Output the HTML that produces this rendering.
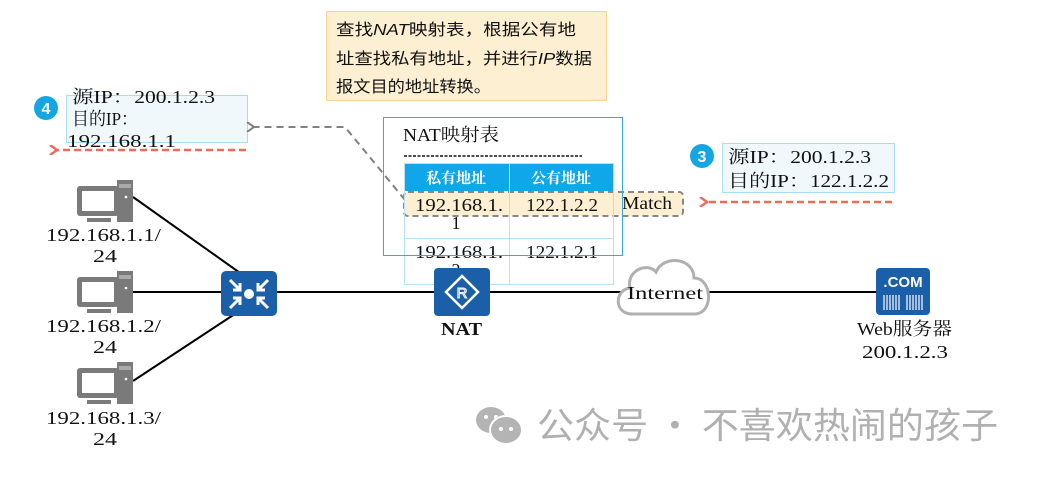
<!DOCTYPE html>
<html><head><meta charset="utf-8"><style>
html,body{margin:0;padding:0;background:#fff;}
svg{display:block;}
.s{font-family:"Liberation Serif","Noto Serif CJK SC",serif;font-size:18px;fill:#111;}
.n{font-family:"Liberation Sans","Noto Sans CJK SC",sans-serif;font-size:16px;fill:#111;}
</style></head><body>
<svg width="1044" height="480" viewBox="0 0 1044 480" xmlns="http://www.w3.org/2000/svg">
<defs>
<marker id="ag" markerWidth="10" markerHeight="10" refX="2" refY="5" orient="auto" markerUnits="userSpaceOnUse"><path d="M9,0 L2,5 L9,10" fill="none" stroke="#808080" stroke-width="2"/></marker>
<marker id="ar" markerWidth="10" markerHeight="10" refX="2" refY="5" orient="auto" markerUnits="userSpaceOnUse"><path d="M9,0 L2,5 L9,10" fill="none" stroke="#ee6b5a" stroke-width="2.5"/></marker>
<g id="pc">
<rect x="0" y="6" width="42" height="30" rx="3" fill="#7a7a7a"/>
<rect x="5" y="11" width="32" height="20" fill="#fff"/>
<rect x="10" y="38" width="24" height="4" fill="#7a7a7a"/>
<rect x="40" y="0" width="16" height="42" fill="#7a7a7a"/>
<rect x="42" y="4" width="12" height="4" fill="#aaa"/>
<circle cx="49" cy="17" r="1.3" fill="#fff"/>
</g>
</defs>
<!-- note -->
<rect x="326.5" y="11.5" width="280" height="89" fill="#fdf0d2" stroke="#f6d493"/>
<text class="n" x="336" y="35" textLength="240" lengthAdjust="spacingAndGlyphs">查找<tspan font-style="italic">NAT</tspan>映射表，根据公有地</text>
<text class="n" x="336" y="64" textLength="256" lengthAdjust="spacingAndGlyphs">址查找私有地址，并进行<tspan font-style="italic">IP</tspan>数据</text>
<text class="n" x="336" y="92" textLength="155" lengthAdjust="spacingAndGlyphs">报文目的地址转换。</text>
<!-- box 4 -->
<rect x="66.5" y="95.5" width="181" height="47" fill="#f0f8fc" stroke="#a8dcf2"/>
<circle cx="46" cy="108" r="12" fill="#14a6e2"/>
<text x="46" y="114" text-anchor="middle" font-family="Liberation Sans,sans-serif" font-weight="bold" font-size="16" fill="#fff">4</text>
<text class="s" x="72" y="103" textLength="143" lengthAdjust="spacingAndGlyphs">源IP：200.1.2.3</text>
<text class="s" x="72" y="125" textLength="66" lengthAdjust="spacingAndGlyphs">目的IP：</text>
<text class="s" x="67" y="147" textLength="109" lengthAdjust="spacingAndGlyphs">192.168.1.1</text>
<line x1="246" y1="150" x2="57" y2="150" stroke="#ee6b5a" stroke-width="2.5" stroke-dasharray="7,4" marker-end="url(#ar)"/>
<!-- grey dashed -->
<polyline points="405,200 345,127 254,127" fill="none" stroke="#808080" stroke-width="2" stroke-dasharray="7,5" marker-end="url(#ag)"/>
<!-- table -->
<rect x="404" y="163" width="210" height="28" fill="#0fa6ea"/>
<text x="456" y="183" text-anchor="middle" font-family="Liberation Serif,Noto Serif CJK SC,serif" font-weight="bold" font-size="15" fill="#fff">私有地址</text>
<text x="561" y="183" text-anchor="middle" font-family="Liberation Serif,Noto Serif CJK SC,serif" font-weight="bold" font-size="15" fill="#fff">公有地址</text>
<rect x="404" y="192" width="279" height="24" rx="4" fill="#fdf0d2" stroke="#888" stroke-width="2" stroke-dasharray="6,4"/>
<g stroke="#b6e2f4" stroke-width="1" fill="none">
<rect x="404.5" y="163.5" width="209" height="121"/>
<line x1="509.5" y1="163" x2="509.5" y2="285"/>
<line x1="404" y1="238.5" x2="614" y2="238.5"/>
</g>
<text class="s" x="415" y="211" textLength="88" lengthAdjust="spacingAndGlyphs">192.168.1.</text>
<text class="s" x="456" y="229" text-anchor="middle">1</text>
<text class="s" x="526" y="211" textLength="72" lengthAdjust="spacingAndGlyphs">122.1.2.2</text>
<text class="s" x="415" y="258" textLength="88" lengthAdjust="spacingAndGlyphs">192.168.1.</text>
<text class="s" x="456" y="276" text-anchor="middle">2</text>
<text class="s" x="526" y="258" textLength="72" lengthAdjust="spacingAndGlyphs">122.1.2.1</text>
<text class="s" x="622" y="209" textLength="50" lengthAdjust="spacingAndGlyphs">Match</text>
<!-- NAT box -->
<rect x="383.5" y="117.5" width="239" height="138" fill="none" stroke="#3aa8dc"/>
<text class="s" x="403" y="141" textLength="96" lengthAdjust="spacingAndGlyphs">NAT映射表</text>
<line x1="404" y1="156" x2="582" y2="156" stroke="#111" stroke-width="1.5" stroke-dasharray="3,1.5"/>
<!-- box 3 -->
<rect x="722.5" y="143.5" width="172" height="49" fill="#f0f8fc" stroke="#a8dcf2"/>
<circle cx="702" cy="156" r="12" fill="#14a6e2"/>
<text x="702" y="162" text-anchor="middle" font-family="Liberation Sans,sans-serif" font-weight="bold" font-size="16" fill="#fff">3</text>
<text class="s" x="728" y="163" textLength="143" lengthAdjust="spacingAndGlyphs">源IP：200.1.2.3</text>
<text class="s" x="728" y="187" textLength="161" lengthAdjust="spacingAndGlyphs">目的IP：122.1.2.2</text>
<line x1="892" y1="202" x2="707" y2="202" stroke="#ee6b5a" stroke-width="2.5" stroke-dasharray="7,4" marker-end="url(#ar)"/>
<!-- links -->
<line x1="130" y1="292" x2="880" y2="292" stroke="#000" stroke-width="2"/>
<line x1="133" y1="197" x2="250" y2="280" stroke="#000" stroke-width="2"/>
<line x1="133" y1="381" x2="250" y2="304" stroke="#000" stroke-width="2"/>
<!-- PCs -->
<use href="#pc" x="77" y="180"/>
<use href="#pc" x="77" y="271"/>
<use href="#pc" x="77" y="362"/>
<text class="s" x="46" y="241" textLength="115" lengthAdjust="spacingAndGlyphs">192.168.1.1/</text>
<text class="s" x="93" y="262" textLength="24" lengthAdjust="spacingAndGlyphs">24</text>
<text class="s" x="46" y="332" textLength="115" lengthAdjust="spacingAndGlyphs">192.168.1.2/</text>
<text class="s" x="93" y="353" textLength="24" lengthAdjust="spacingAndGlyphs">24</text>
<text class="s" x="46" y="424" textLength="115" lengthAdjust="spacingAndGlyphs">192.168.1.3/</text>
<text class="s" x="93" y="445" textLength="24" lengthAdjust="spacingAndGlyphs">24</text>
<!-- switch -->
<rect x="221" y="271" width="56" height="45" rx="5" fill="#1a5fa8"/>
<circle cx="249" cy="294" r="5" fill="#fff"/>
<g stroke="#fff" stroke-width="3" fill="none">
<path d="M230,280 L240,290 M240,283 L240,290 L233,290"/>
<path d="M268,280 L258,290 M258,283 L258,290 L265,290"/>
<path d="M230,308 L240,298 M240,305 L240,298 L233,298"/>
<path d="M268,308 L258,298 M258,305 L258,298 L265,298"/>
</g>
<!-- router -->
<rect x="434" y="268" width="56" height="48" rx="4" fill="#1a5fa8"/>
<path d="M462,276 L478,292 L462,308 L446,292 Z" fill="none" stroke="#fff" stroke-width="2.5"/>
<text x="462" y="298" text-anchor="middle" font-family="Liberation Sans,sans-serif" font-size="15" fill="#1a5fa8" stroke="#fff" stroke-width="1">R</text>
<text x="441" y="335" textLength="41" lengthAdjust="spacingAndGlyphs" font-family="Liberation Serif,serif" font-weight="bold" font-size="18" fill="#111">NAT</text>
<!-- cloud -->
<path d="M632,314 C614,314 614,290 630,288 C626,270 648,262 656,272 C664,254 694,258 694,278 C712,278 714,312 696,314 Z" fill="#fff" stroke="#b0b0b0" stroke-width="3"/>
<text class="s" x="627" y="299" textLength="76" lengthAdjust="spacingAndGlyphs">Internet</text>
<!-- server -->
<rect x="876" y="268" width="54" height="47" rx="4" fill="#1a5fa8"/>
<text x="903" y="287" text-anchor="middle" font-family="Liberation Sans,sans-serif" font-weight="bold" font-size="15" fill="#fff">.COM</text>
<g stroke="#fff" stroke-width="1.2">
<line x1="884" y1="295" x2="884" y2="310"/><line x1="887" y1="295" x2="887" y2="310"/><line x1="890" y1="295" x2="890" y2="310"/><line x1="893" y1="295" x2="893" y2="310"/><line x1="896" y1="295" x2="896" y2="310"/><line x1="899" y1="295" x2="899" y2="310"/>
<line x1="907" y1="295" x2="907" y2="310"/><line x1="910" y1="295" x2="910" y2="310"/><line x1="913" y1="295" x2="913" y2="310"/><line x1="916" y1="295" x2="916" y2="310"/><line x1="919" y1="295" x2="919" y2="310"/><line x1="922" y1="295" x2="922" y2="310"/>
</g>
<text class="s" x="857" y="335" textLength="95" lengthAdjust="spacingAndGlyphs">Web服务器</text>
<text class="s" x="862" y="358" textLength="86" lengthAdjust="spacingAndGlyphs">200.1.2.3</text>
<!-- watermark -->
<ellipse cx="491" cy="420" rx="15" ry="13" fill="#b4b4b4"/>
<ellipse cx="506" cy="430" rx="16" ry="14" fill="#b4b4b4" stroke="#fff" stroke-width="2"/>
<circle cx="486" cy="417" r="2" fill="#fff"/><circle cx="496" cy="417" r="2" fill="#fff"/>
<circle cx="501" cy="429" r="2" fill="#fff"/><circle cx="511" cy="429" r="2" fill="#fff"/>
<text x="537" y="438" textLength="461" lengthAdjust="spacingAndGlyphs" font-family="Noto Sans CJK SC,sans-serif" font-size="36" fill="#b0b0b0">公众号 · 不喜欢热闹的孩子</text>
</svg>
</body></html>
